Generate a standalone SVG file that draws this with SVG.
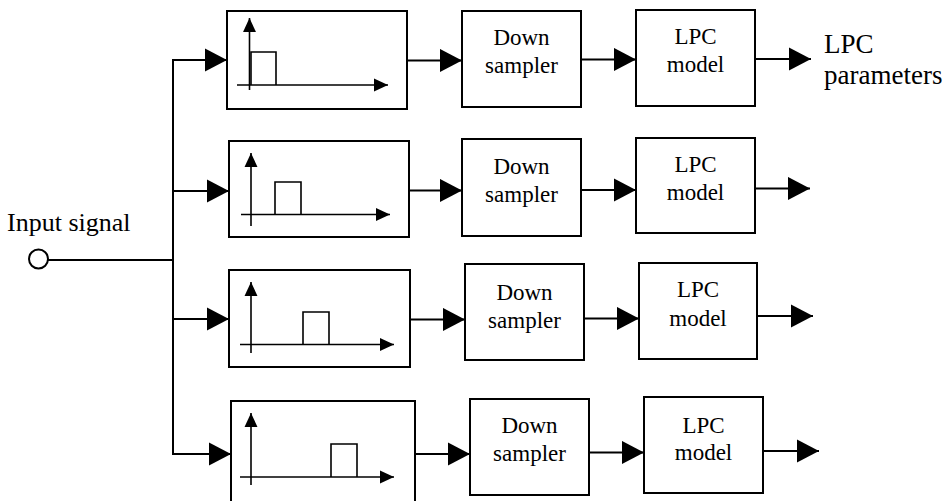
<svg xmlns="http://www.w3.org/2000/svg" width="947" height="501" viewBox="0 0 947 501">
<style>
.box{fill:#fff;stroke:#000;stroke-width:2}
.ln{fill:none;stroke:#000;stroke-width:2}
.ax{fill:none;stroke:#000;stroke-width:1.6}
.hd{fill:#000;stroke:none}
.t{font-family:"Liberation Serif","Times New Roman",serif;font-size:23px;fill:#000;text-anchor:middle}
.lbl{font-family:"Liberation Serif","Times New Roman",serif;fill:#000}
</style>
<defs>
<marker id="arr" markerUnits="userSpaceOnUse" markerWidth="22" markerHeight="24" viewBox="0 0 20 21" refX="20" refY="10.5" orient="auto">
<path d="M0,0 L20,10.5 L0,21 Z" fill="#000"/>
</marker>
<marker id="axh" markerUnits="userSpaceOnUse" markerWidth="14" markerHeight="14" viewBox="0 0 13 12" refX="13" refY="6" orient="auto">
<path d="M0,0 L13,6 L0,12 Z" fill="#000"/>
</marker>
</defs>
<rect width="947" height="501" fill="#fff"/>

<text class="lbl" x="7" y="231" font-size="26">Input signal</text>
<text class="lbl" x="824" y="52.5" font-size="27">LPC</text>
<text class="lbl" x="824" y="83.5" font-size="27">parameters</text>

<g id="connectors">
<circle cx="38.5" cy="259" r="9.5" fill="#fff" stroke="#000" stroke-width="2"/>
<line class="ln" x1="48" y1="260" x2="173" y2="260" stroke-width="1.7"/>
<line class="ln" x1="173" y1="59" x2="173" y2="455"/>
<line class="ln" x1="172" y1="60" x2="227" y2="60" marker-end="url(#arr)"/>
<line class="ln" x1="172" y1="191" x2="229" y2="191" marker-end="url(#arr)"/>
<line class="ln" x1="172" y1="319" x2="229" y2="319" marker-end="url(#arr)"/>
<line class="ln" x1="172" y1="454" x2="231" y2="454" marker-end="url(#arr)"/>
<line class="ln" x1="407" y1="60.5" x2="462" y2="60.5" marker-end="url(#arr)"/>
<line class="ln" x1="409" y1="190.5" x2="462" y2="190.5" marker-end="url(#arr)"/>
<line class="ln" x1="410" y1="319.5" x2="465" y2="319.5" marker-end="url(#arr)"/>
<line class="ln" x1="415" y1="454" x2="470" y2="454" marker-end="url(#arr)"/>
<line class="ln" x1="581" y1="59.5" x2="636" y2="59.5" marker-end="url(#arr)"/>
<line class="ln" x1="581" y1="190" x2="636" y2="190" marker-end="url(#arr)"/>
<line class="ln" x1="584" y1="318.5" x2="639" y2="318.5" marker-end="url(#arr)"/>
<line class="ln" x1="589" y1="452.5" x2="644" y2="452.5" marker-end="url(#arr)"/>
<line class="ln" x1="755" y1="59" x2="811" y2="59" marker-end="url(#arr)"/>
<line class="ln" x1="755" y1="188.5" x2="810" y2="188.5" marker-end="url(#arr)"/>
<line class="ln" x1="757" y1="316" x2="813" y2="316" marker-end="url(#arr)"/>
<line class="ln" x1="763" y1="451" x2="819" y2="451" marker-end="url(#arr)"/>
</g>

<g id="filter1">
<rect class="box" x="227" y="11" width="180" height="98"/>
<line class="ax" x1="249.5" y1="90" x2="249.5" y2="18" marker-end="url(#axh)"/>
<line class="ax" x1="237" y1="85" x2="388" y2="85" marker-end="url(#axh)"/>
<polyline class="ax" points="251,85 251,52 276,52 276,85"/>
</g>
<g id="filter2">
<rect class="box" x="229" y="141" width="180" height="96"/>
<line class="ax" x1="251" y1="226" x2="251" y2="153" marker-end="url(#axh)"/>
<line class="ax" x1="241" y1="214.5" x2="390" y2="214.5" marker-end="url(#axh)"/>
<polyline class="ax" points="275,214.5 275,182 301,182 301,214.5"/>
</g>
<g id="filter3">
<rect class="box" x="229" y="270" width="181" height="97"/>
<line class="ax" x1="251" y1="353" x2="251" y2="282" marker-end="url(#axh)"/>
<line class="ax" x1="240" y1="344.5" x2="394" y2="344.5" marker-end="url(#axh)"/>
<polyline class="ax" points="303,344.5 303,312 329,312 329,344.5"/>
</g>
<g id="filter4">
<rect class="box" x="231" y="401" width="184" height="106"/>
<line class="ax" x1="251" y1="485" x2="251" y2="413" marker-end="url(#axh)"/>
<line class="ax" x1="240" y1="477" x2="394" y2="477" marker-end="url(#axh)"/>
<polyline class="ax" points="331,477 331,444 357,444 357,477"/>
</g>

<g id="down1">
<rect class="box" x="462" y="11" width="119" height="96"/>
<text class="t" x="521.5" y="45">Down</text>
<text class="t" x="521.5" y="73">sampler</text>
</g>
<g id="down2">
<rect class="box" x="462" y="139" width="119" height="97"/>
<text class="t" x="521.5" y="174">Down</text>
<text class="t" x="521.5" y="202">sampler</text>
</g>
<g id="down3">
<rect class="box" x="465" y="264" width="119" height="96"/>
<text class="t" x="524.5" y="300">Down</text>
<text class="t" x="524.5" y="328">sampler</text>
</g>
<g id="down4">
<rect class="box" x="470" y="399" width="119" height="96"/>
<text class="t" x="529.5" y="433">Down</text>
<text class="t" x="529.5" y="461">sampler</text>
</g>

<g id="lpc1">
<rect class="box" x="636" y="10" width="119" height="96"/>
<text class="t" x="695.5" y="44">LPC</text>
<text class="t" x="695.5" y="72">model</text>
</g>
<g id="lpc2">
<rect class="box" x="636" y="138" width="119" height="95"/>
<text class="t" x="695.5" y="172">LPC</text>
<text class="t" x="695.5" y="200">model</text>
</g>
<g id="lpc3">
<rect class="box" x="639" y="263" width="118" height="96"/>
<text class="t" x="698" y="297">LPC</text>
<text class="t" x="698" y="326">model</text>
</g>
<g id="lpc4">
<rect class="box" x="644" y="397" width="119" height="96"/>
<text class="t" x="703.5" y="433">LPC</text>
<text class="t" x="703.5" y="460">model</text>
</g>
</svg>
